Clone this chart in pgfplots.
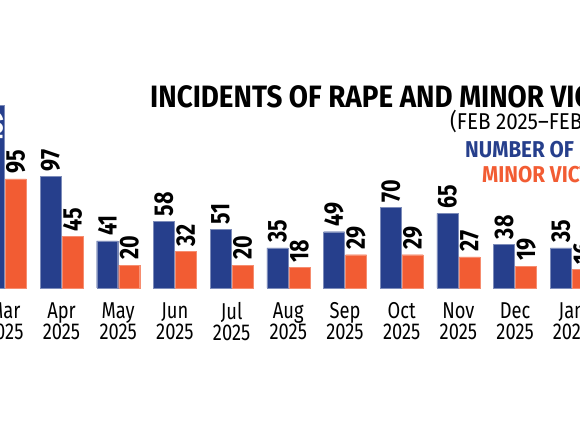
\documentclass[border=0pt]{standalone}
\usepackage{fontspec}
\setmainfont{Fira Sans}[FakeStretch=0.8]
\newfontfamily\headfont{Fira Sans}[FakeStretch=0.9]
\usepackage{pgfplots}
\pgfplotsset{compat=1.18}
\definecolor{incblue}{HTML}{263F8C}
\definecolor{minorg}{HTML}{F25C33}

\begin{document}
\begin{tikzpicture}[x=1bp,y=1bp]
\path[use as bounding box] (0,0) rectangle (580,435);
\clip (0,0) rectangle (580,435);

\begin{axis}[
  at={(-80.25bp,147bp)}, anchor=south west,
  scale only axis, width=737.1bp, height=229.6bp,
  xmin=-0.5, xmax=12.5, ymin=0, ymax=200,
  ybar, bar width=21bp,
  axis line style={draw=none}, tick style={draw=none},
  ytick=\empty,
  xtick={1,...,11},
  xticklabels={{Mar\\2025},{Apr\\2025},{May\\2025},{Jun\\2025},{Jul\\2025},{Aug\\2025},{Sep\\2025},{Oct\\2025},{Nov\\2025},{Dec\\2025},{Jan\\2026}},
  xticklabel style={align=center, font=\fontsize{23}{21}\selectfont, inner sep=0pt, yshift=-10bp},
  /pgf/number format/assume math mode=true,
  nodes near coords,
  nodes near coords style={rotate=90, anchor=west, inner sep=5bp, text=black,
    font=\bfseries\fontsize{27}{27}\selectfont},
  clip=false,
]
% number of incidents (Mar plotted separately, label sits inside the bar)
\addplot[fill=incblue, draw=incblue!60!white, bar shift=-11bp,
  nodes near coords style={anchor=east, text=white}] coordinates {
  (1,159)
};
\addplot[fill=incblue, draw=incblue!60!white, bar shift=-11bp] coordinates {
  (2,97) (3,41) (4,58) (5,51) (6,35) (7,49) (8,70) (9,65) (10,38) (11,35)
};
% minor victims
\addplot[fill=minorg, draw=minorg!70!white, bar shift=11bp] coordinates {
  (1,95) (2,45) (3,20) (4,32) (5,20) (6,18) (7,29) (8,29) (9,27) (10,19) (11,16)
};
\end{axis}

\node[anchor=base west, inner sep=0pt, font=\headfont\bfseries\fontsize{31}{31}\selectfont]
  at (150,327) {INCIDENTS OF RAPE AND MINOR VICTIMS};
\node[anchor=base west, inner sep=0pt, font=\headfont\fontsize{23}{23}\selectfont]
  at (450,305) {(FEB 2025–FEB 2026)};
\node[anchor=base west, inner sep=0pt, text=incblue, font=\headfont\bfseries\fontsize{23}{23}\selectfont]
  at (465,277) {NUMBER OF INCIDENTS};
\node[anchor=base west, inner sep=0pt, text=minorg, font=\headfont\bfseries\fontsize{23}{23}\selectfont]
  at (482,252) {MINOR VICTIMS};
\end{tikzpicture}
\end{document}
